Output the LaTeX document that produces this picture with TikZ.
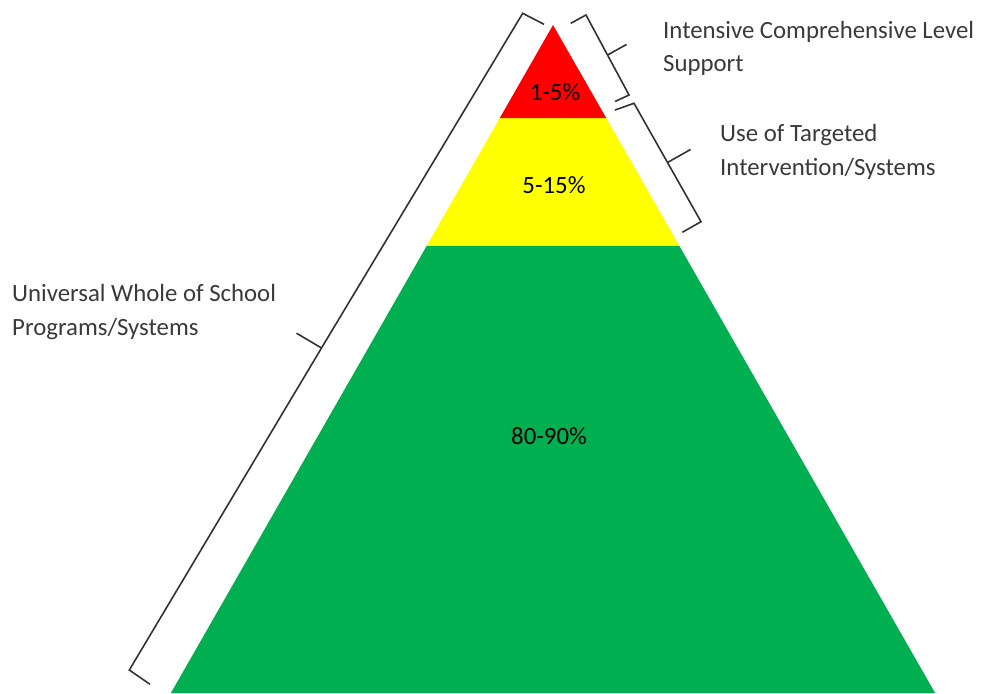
\documentclass[tikz,border=0pt]{standalone}
\usepackage{fontspec}
\setmainfont{Carlito}
\definecolor{tierred}{HTML}{FF0000}
\definecolor{tieryellow}{HTML}{FFFF00}
\definecolor{tiergreen}{HTML}{00B050}
\definecolor{labelgray}{HTML}{3A3A3A}
\tikzset{
  bracepath/.style={draw=black!80, line width=1.6pt, line join=miter},
  sidelabel/.style={inner sep=0pt, anchor=base west, text=labelgray, font=\fontsize{24.8}{33.3}\selectfont},
  pctlabel/.style={inner sep=0pt, text=black, font=\fontsize{24.8}{28}\selectfont},
}
\begin{document}
\begin{tikzpicture}[x=1pt,y=-1pt]
\useasboundingbox[fill=white] (0,0) rectangle (984,693);
% pyramid tiers
\fill[tiergreen] (426.9,245.5) -- (679.1,245.5) -- (935.1,693) -- (170.9,693) -- cycle;
\fill[tieryellow] (499.8,118) -- (606.2,118) -- (679.1,245.5) -- (426.9,245.5) -- cycle;
\fill[tierred] (553,25) -- (606.2,118) -- (499.8,118) -- cycle;
% percentage labels
\node[pctlabel] (p1) at (555,92) {1-5\%};
\node[pctlabel] (p2) at (554,185) {5-15\%};
\node[pctlabel] (p3) at (549,436) {80-90\%};
% big left brace
\coordinate (bAe) at (544,24.3);
\coordinate (bAc) at (522.7,13.3);
\coordinate (bAm) at (321.5,348);
\coordinate (bAt) at (296.5,333.2);
\coordinate (bAd) at (129.3,670);
\coordinate (bAf) at (150,684.3);
\draw[bracepath] (bAe) -- (bAc) -- (bAm) -- (bAd) -- (bAf);
\draw[bracepath] (bAm) -- (bAt);
% right brace (red)
\coordinate (bBe) at (570.7,23.3);
\coordinate (bBc) at (586,15);
\coordinate (bBm) at (607.5,55);
\coordinate (bBt) at (626.5,44.5);
\coordinate (bBd) at (629,95);
\coordinate (bBf) at (615,101.5);
\draw[bracepath] (bBe) -- (bBc) -- (bBm) -- (bBd) -- (bBf);
\draw[bracepath] (bBm) -- (bBt);
% right brace (yellow)
\coordinate (bCe) at (615,110);
\coordinate (bCc) at (634,103.3);
\coordinate (bCm) at (667.5,162.5);
\coordinate (bCt) at (690.5,149.5);
\coordinate (bCd) at (701,221.7);
\coordinate (bCf) at (682.3,232.3);
\draw[bracepath] (bCe) -- (bCc) -- (bCm) -- (bCd) -- (bCf);
\draw[bracepath] (bCm) -- (bCt);
% side labels
\node[sidelabel] (l1a) at (663,38.3) {Intensive Comprehensive Level};
\node[sidelabel] (l1b) at (663,71.6) {Support};
\node[sidelabel] (l2a) at (720,141.6) {Use of Targeted};
\node[sidelabel] (l2b) at (720,175) {Intervention/Systems};
\node[sidelabel] (l3a) at (12,301.7) {Universal Whole of School};
\node[sidelabel] (l3b) at (12,335) {Programs/Systems};
\end{tikzpicture}
\end{document}
